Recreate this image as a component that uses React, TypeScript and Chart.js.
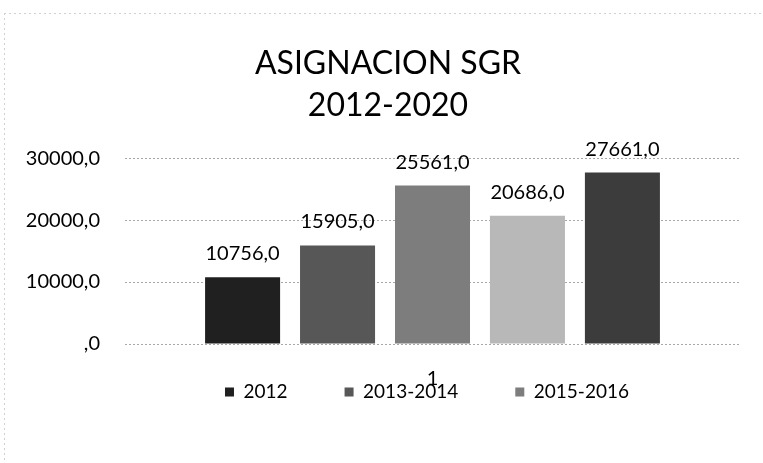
import React, { useEffect, useRef } from "react";
import { Chart, registerables } from "chart.js";

Chart.register(...registerables);

const categories = ["1"];
const seriesNames = ["2012", "2013-2014", "2015-2016", "2017-2018", "2019-2020"];
const seriesValues = [10756, 15905, 25561, 20686, 27661];
const seriesColors = ["#202020", "#575757", "#7d7d7d", "#b8b8b8", "#3c3c3c"];
const yTicks = [0, 10000, 20000, 30000];
const titleLines = ["ASIGNACION SGR", "2012-2020"];
const legendShown = 3;

const FONT = "Lato, 'Open Sans', sans-serif";

const fmt = (v: number) => (v === 0 ? ",0" : v.toFixed(1).replace(".", ","));

const valueLabels = {
  id: "valueLabels",
  afterDatasetsDraw(chart: any) {
    const ctx = chart.ctx;
    ctx.save();
    ctx.font = `20px ${FONT}`;
    ctx.fillStyle = "#000";
    ctx.textAlign = "center";
    ctx.textBaseline = "alphabetic";
    chart.data.datasets.forEach((ds: any, i: number) => {
      const meta = chart.getDatasetMeta(i);
      meta.data.forEach((el: any, j: number) => {
        ctx.fillText(fmt(ds.data[j]), el.x, el.y - 17);
      });
    });
    ctx.restore();
  },
};

const placeBoxes = {
  id: "placeBoxes",
  afterLayout(chart: any) {
    const lg = chart.legend;
    if (lg) {
      lg.left += 57;
      lg.right += 57;
      lg.top = 325.5;
      lg.height = 100;
      lg.bottom = lg.top + lg.height;
    }
    const tb = chart.titleBlock;
    if (tb) {
      tb.left += 18;
      tb.right += 18;
    }
  },
  beforeDraw(chart: any) {
    const ctx = chart.ctx;
    ctx.save();
    ctx.strokeStyle = "#d0d0d0";
    ctx.lineWidth = 1;
    ctx.setLineDash([2, 3]);
    ctx.beginPath();
    ctx.moveTo(4, 13.5);
    ctx.lineTo(763, 13.5);
    ctx.moveTo(4.5, 13);
    ctx.lineTo(4.5, 463);
    ctx.stroke();
    ctx.restore();
  },
};

export default function App() {
  const ref = useRef<HTMLCanvasElement | null>(null);

  useEffect(() => {
    if (!ref.current) return;
    const chart = new Chart(ref.current, {
      type: "bar",
      data: {
        labels: categories,
        datasets: seriesNames.map((name, i) => ({
          label: name,
          data: [seriesValues[i]],
          backgroundColor: seriesColors[i],
          borderWidth: 0,
          categoryPercentage: 0.772,
          barPercentage: 0.79,
        })),
      },
      options: {
        animation: false,
        responsive: false,
        devicePixelRatio: 1,
        layout: { padding: { top: 42, left: 0, right: 23, bottom: 45 } },
        plugins: {
          title: {
            display: true,
            text: titleLines,
            color: "#000",
            font: { family: FONT, size: 32, weight: "normal", lineHeight: 1.33 },
            padding: { top: 0, bottom: 31 },
          },
          legend: {
            display: true,
            position: "bottom",
            maxHeight: 30,
            labels: {
              color: "#000",
              font: { family: FONT, size: 19 },
              boxWidth: 9,
              boxHeight: 9,
              padding: 57,
              filter: (item: any) => item.datasetIndex < legendShown,
            },
          },
          tooltip: { enabled: false },
        },
        scales: {
          x: {
            grid: { display: false },
            border: { display: false },
            ticks: { color: "#000", font: { family: FONT, size: 20, lineHeight: 1.2 }, padding: 15 },
            afterFit: (s: any) => {
              s.height = 44;
            },
          },
          y: {
            min: 0,
            max: 30000,
            afterBuildTicks: (s: any) => {
              s.ticks = yTicks.map((v) => ({ value: v }));
            },
            afterFit: (s: any) => {
              s.width = 125;
            },
            border: { display: false, dash: [2, 2] },
            grid: {
              color: "#a8a8a8",
              lineWidth: 1,
              drawTicks: false,
            },
            ticks: {
              color: "#000",
              font: { family: FONT, size: 20 },
              padding: 25,
              callback: (v: any) => fmt(Number(v)),
            },
          },
        },
      },
      plugins: [valueLabels, placeBoxes],
    } as any);
    return () => chart.destroy();
  }, []);

  return (
    <div style={{ position: "fixed", left: 0, top: 0, width: 763, height: 463, background: "#fff" }}>
      <canvas ref={ref} width={763} height={463} />
    </div>
  );
}
